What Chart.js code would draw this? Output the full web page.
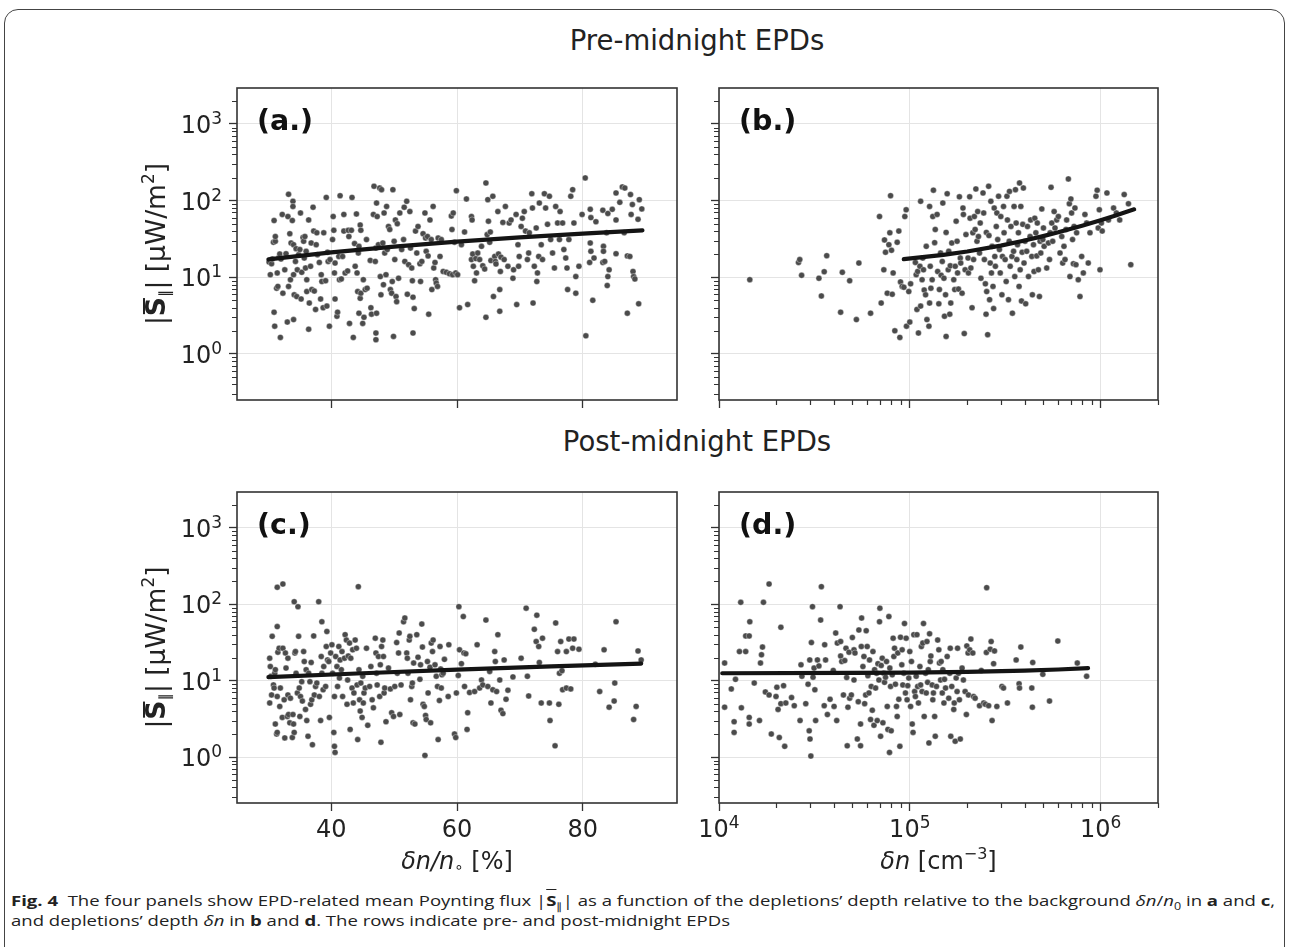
<!DOCTYPE html>
<html lang="en">
<head>
<meta charset="UTF-8">
<title>EPD Poynting flux vs depletion depth</title>
<script src="https://cdn.jsdelivr.net/npm/chart.js"></script>
<style>
  body { margin: 0; background: #fff; width: 1290px; height: 947px; overflow: hidden; position: relative; font-family: 'DejaVu Sans', sans-serif; }
  .frame { position: absolute; left: 4px; top: 9px; width: 1279px; height: 960px; border: 1.5px solid #444; border-radius: 14px; }
  .row-title { position: absolute; left: 0; width: 1394px; text-align: center; font-size: 27.5px; line-height: 32px; color: #222; }
  .panel { position: absolute; }
  .caption { position: absolute; left: 11px; top: 890px; font-family: 'Open Sans', sans-serif; font-size: 14.8px; line-height: 20px; color: #222; white-space: nowrap; }
  .caption div { transform-origin: 0 0; width: max-content; }
  .caption sub { font-size: 10px; line-height: 0; }
</style>
</head>
<body>
<div class="frame"></div>
<div class="row-title" style="top:24px">Pre-midnight EPDs</div>
<div class="row-title" style="top:425px">Post-midnight EPDs</div>

<div class="panel" id="wa"><canvas id="pa"></canvas></div>
<div class="panel" id="wb"><canvas id="pb"></canvas></div>
<div class="panel" id="wc"><canvas id="pc"></canvas></div>
<div class="panel" id="wd"><canvas id="pd"></canvas></div>

<div class="caption">
  <div id="cap1"><b>Fig. 4</b>&nbsp; The four panels show EPD-related mean Poynting flux |<b style="text-decoration:overline">S</b><sub>∥</sub>| as a function of the depletions’ depth relative to the background <i>δn</i>/<i>n</i><sub>0</sub> in <b>a</b> and <b>c</b>,</div>
  <div id="cap2">and depletions’ depth <i>δn</i> in <b>b</b> and <b>d</b>. The rows indicate pre- and post-midnight EPDs</div>
</div>

<script>
// ---- data: [x, |S|| in uW/m^2] ----
// (a) pre-midnight, relative depth dn/n0 [%]
const preRelPts = [[30.1,15.8],[30.3,10.8],[30.5,15.0],[30.6,17.3],[30.8,28.6],[30.9,55],[30.9,3.5],[31.0,2.3],[31.1,29.5],[31.1,34],[31.3,7.2],[31.4,11.4],[31.5,7.6],[31.7,18.3],[31.8,20.1],[31.9,1.64],[32.0,17.3],[32.2,66],[32.3,6.2],[32.6,12.5],[32.8,20.3],[33.0,2.6],[33.1,62],[33.2,121],[33.2,7.6],[33.4,37],[33.5,9.3],[33.6,28],[33.8,55],[33.9,98],[33.9,84],[34.0,26.6],[34.0,2.8],[34.0,10.8],[34.1,5.9],[34.3,16.1],[34.4,23.6],[34.5,5.6],[34.6,12.5],[34.8,19.7],[35.0,23],[35.1,69],[35.2,5.2],[35.3,11.6],[35.5,33],[35.6,29.5],[35.7,17.8],[35.8,34],[35.9,13.2],[36.0,21.8],[36.1,6.5],[36.1,9.3],[36.4,2.1],[36.4,56],[36.5,4.6],[36.7,13.9],[36.8,28],[36.9,6.9],[37.1,82],[37.2,40],[37.3,6.6],[37.5,3.8],[37.6,26.6],[37.7,38],[37.8,19.7],[38.1,15.6],[38.3,5.2],[38.4,10.8],[38.5,8.8],[38.7,4.0],[38.8,38],[39.1,9.0],[39.2,110],[39.3,4.2],[39.4,21.2],[39.5,16.1],[39.7,2.3],[39.8,17],[40.2,31],[40.3,62],[40.4,41],[40.5,11.4],[40.6,15.3],[40.6,5.2],[40.9,3.1],[41.0,3.5],[41.2,18.7],[41.3,9.3],[41.4,116],[41.6,9.5],[41.8,18.7],[42.0,66],[42.0,40],[42.2,11.4],[42.6,12.1],[42.7,41],[42.8,34],[42.9,2.5],[43.2,41],[43.3,110],[43.5,1.64],[43.7,27.5],[43.8,13.9],[44.0,67],[44.1,11.4],[44.2,6.5],[44.3,20.7],[44.4,3.4],[44.4,25.3],[44.6,5.3],[44.6,48],[44.7,6.2],[44.7,41],[45.0,2.5],[45.1,9.3],[45.2,3.0],[45.4,6.9],[45.6,31],[45.7,7.2],[46.2,16.6],[46.3,4.0],[46.4,3.3],[46.7,66],[46.8,154],[47.0,16.1],[47.1,24],[47.1,1.87],[47.1,1.53],[47.2,3.4],[47.2,93],[47.3,62],[47.5,26.6],[47.7,146],[47.8,10.2],[47.9,5.9],[48.0,139],[48.2,28],[48.3,8.0],[48.4,69],[48.5,20.7],[48.7,10.8],[48.8,84],[48.9,23],[49.1,46],[49.3,42],[49.4,6.9],[49.6,6.2],[49.7,8.8],[49.8,139],[49.9,1.69],[50.0,29.5],[50.1,17],[50.2,56],[50.3,5.6],[50.4,4.8],[50.5,50],[50.7,9.7],[50.9,69],[51.2,23],[51.5,31],[51.6,82],[51.7,16.1],[52.0,98],[52.1,6.0],[52.3,14.6],[52.5,72],[52.6,24],[52.8,13.2],[52.9,9.0],[53.0,1.87],[53.0,5.5],[53.2,3.9],[53.4,40],[53.6,20.7],[53.8,46],[54.1,15],[54.2,8.8],[54.4,16.1],[54.6,37],[54.9,69],[55.0,32.5],[55.1,21.8],[55.3,34],[55.4,19],[55.5,3.3],[55.7,56],[55.9,31],[56.0,6.9],[56.2,84],[56.3,13.2],[56.5,15.6],[56.6,9.3],[56.7,8.4],[56.9,7.6],[57.0,32.5],[57.3,18.7],[57.5,31],[57.8,11.9],[58.3,11.6],[58.8,11.1],[59.1,63],[59.2,42],[59.3,10.8],[59.4,69],[60.4,4.0],[59.6,28.6],[59.8,11.4],[59.9,135],[60.1,10.8],[60.7,26.6],[61.2,39],[61.5,105],[61.7,4.4],[62.3,62],[62.3,17],[62.4,56],[62.5,20.1],[62.6,13.9],[62.8,9.0],[63.0,17.5],[63.1,11.4],[63.3,20.7],[63.6,17],[63.9,25.3],[64.1,14.1],[64.4,12.8],[64.6,170],[64.6,3.0],[64.8,36],[64.9,103],[65.0,54],[65.2,28.6],[65.3,39],[65.4,16.5],[65.7,114],[65.8,5.6],[66.0,18.7],[66.1,16.1],[66.2,14.9],[66.5,72],[66.6,20.1],[66.8,3.6],[66.8,6.9],[66.9,11.9],[67.0,18.3],[67.3,52],[67.5,17],[67.7,84],[68.1,13.9],[68.3,51],[68.6,56],[68.9,9.7],[69.0,12.5],[69.4,66],[69.5,4.4],[69.7,26.6],[69.8,13.9],[69.9,18.7],[70.2,46],[70.4,59],[70.7,72],[70.9,40],[71.2,17],[71.4,20.7],[71.5,38],[71.9,123],[72.0,80],[72.1,4.6],[72.3,13.9],[72.6,44],[72.7,8.8],[72.8,11.4],[73.0,18.7],[73.1,93],[73.4,26.6],[73.6,17],[73.9,123],[74.1,80],[74.4,49],[74.7,114],[74.9,31],[75.2,20.7],[75.5,13.2],[75.7,84],[76.0,51],[76.3,31],[76.4,72],[76.8,51],[77.0,23],[77.3,17.8],[77.5,13.2],[77.6,6.9],[77.8,31],[78.1,114],[78.4,139],[78.6,51],[78.9,10.2],[78.9,6.2],[79.4,13.9],[79.9,66],[80.4,198],[80.5,1.72],[81.2,77],[81.3,60],[81.6,5.0],[81.2,28],[81.3,21.8],[81.1,15.6],[81.8,17.8],[82.1,53],[83.2,75],[83.3,25.3],[83.3,21.8],[83.2,15.6],[83.5,16.1],[83.8,38],[84.0,68],[84.2,12.5],[84.0,10.2],[83.9,7.8],[84.7,77],[85.3,126],[85.3,56],[85.3,20.3],[85.9,95],[86.3,151],[86.7,146],[86.6,38],[87.1,19],[87.5,18.7],[87.1,3.4],[87.6,120],[87.9,89],[87.7,66],[88.0,11.9],[88.1,10.2],[88.3,9.5],[88.8,57],[89.0,103],[89.4,78],[88.9,4.5]];
const preRelFit = [[30,17.1],[40,21.1],[50,25.1],[60,29.1],[70,33.1],[80,37.1],[89.5,41]];

// (b) pre-midnight, absolute depth dn [cm^-3]
const preAbsPts = [[1.45e4,9.3],[2.61e4,15.6],[2.65e4,17],[2.71e4,10.6],[3.34e4,9.7],[3.44e4,5.7],[3.56e4,11.8],[3.67e4,19.1],[4.34e4,3.5],[4.43e4,11.6],[4.84e4,9.0],[5.25e4,2.8],[5.41e4,15.3],[6.23e4,3.4],[6.94e4,62],[7.08e4,4.6],[7.31e4,12.5],[7.37e4,30.7],[7.46e4,21.2],[7.62e4,6.2],[7.77e4,26.6],[7.86e4,38],[7.93e4,116],[8.02e4,22.5],[8.09e4,6.0],[8.18e4,11.4],[8.35e4,2.0],[8.59e4,28.6],[8.76e4,40],[8.87e4,1.64],[8.94e4,8.7],[9.12e4,7.6],[9.31e4,7.4],[9.42e4,62],[9.57e4,76],[9.61e4,2.3],[9.88e4,6.5],[1.0e5,2.6],[1.01e5,8.2],[1.07e5,15.6],[1.08e5,10.8],[1.09e5,3.8],[1.10e5,11.9],[1.11e5,1.87],[1.13e5,13.9],[1.14e5,98],[1.14e5,4.2],[1.16e5,9.3],[1.17e5,17.8],[1.18e5,12.5],[1.19e5,6.8],[1.21e5,5.9],[1.22e5,25.3],[1.23e5,2.8],[1.26e5,2.3],[1.27e5,4.6],[1.27e5,84],[1.28e5,13.9],[1.29e5,7.2],[1.31e5,9.3],[1.32e5,62],[1.33e5,137],[1.35e5,28.3],[1.36e5,42],[1.39e5,66],[1.40e5,11.9],[1.42e5,4.5],[1.43e5,6.9],[1.45e5,20.7],[1.46e5,10.6],[1.48e5,16.1],[1.49e5,93],[1.51e5,9.7],[1.52e5,3.1],[1.54e5,5.9],[1.55e5,38.5],[1.55e5,1.69],[1.57e5,123],[1.59e5,12.5],[1.60e5,21.8],[1.62e5,3.3],[1.63e5,14.1],[1.64e5,4.6],[1.66e5,28],[1.70e5,9.3],[1.72e5,6.9],[1.73e5,13.9],[1.75e5,54],[1.77e5,29.5],[1.78e5,11.4],[1.80e5,7.0],[1.82e5,112],[1.84e5,17.8],[1.85e5,15.3],[1.88e5,6.2],[1.90e5,80],[1.91e5,66],[1.93e5,1.84],[1.95e5,12.5],[1.97e5,36],[2.02e5,17.8],[2.03e5,11.4],[2.06e5,112],[2.07e5,59],[2.09e5,13.2],[2.12e5,4.0],[2.14e5,38],[2.16e5,17],[2.18e5,62],[2.20e5,42],[2.22e5,142],[2.25e5,29.5],[2.27e5,72],[2.29e5,34],[2.32e5,20.7],[2.34e5,51],[2.36e5,9.7],[2.42e5,126],[2.44e5,69],[2.46e5,17],[2.49e5,8.2],[2.51e5,3.3],[2.52e5,38.5],[2.53e5,6.5],[2.56e5,1.78],[2.59e5,154],[2.60e5,35],[2.62e5,5.1],[2.64e5,15.3],[2.66e5,98],[2.68e5,11.4],[2.70e5,25.3],[2.73e5,7.6],[2.75e5,3.9],[2.77e5,80],[2.79e5,18.7],[2.81e5,13.9],[2.84e5,46],[2.86e5,69],[2.89e5,31],[2.92e5,114],[2.95e5,23],[2.98e5,11.4],[3.0e5,62],[3.04e5,5.9],[3.06e5,18.7],[3.10e5,84],[3.12e5,38],[3.16e5,17],[3.20e5,8.8],[3.23e5,114],[3.25e5,56],[3.29e5,5.1],[3.32e5,29.5],[3.33e5,132],[3.36e5,13.9],[3.39e5,46],[3.43e5,18.7],[3.45e5,3.4],[3.50e5,21.8],[3.52e5,84],[3.55e5,10.2],[3.58e5,139],[3.61e5,51],[3.64e5,17],[3.67e5,26.6],[3.71e5,38],[3.74e5,7.6],[3.76e5,170],[3.79e5,12.5],[3.82e5,84],[3.85e5,4.9],[3.88e5,21.2],[3.91e5,49],[3.94e5,146],[3.97e5,15.3],[4.02e5,29.5],[4.05e5,4.5],[4.10e5,21.8],[4.14e5,46],[4.19e5,10.2],[4.27e5,34],[4.30e5,56],[4.36e5,18.7],[4.39e5,5.9],[4.45e5,26.6],[4.48e5,11.9],[4.52e5,59],[4.58e5,38],[4.63e5,19],[4.66e5,51],[4.72e5,12.5],[4.78e5,5.6],[4.82e5,29.5],[4.86e5,20.7],[4.92e5,78],[4.98e5,31],[5.02e5,44],[5.06e5,25.3],[5.22e5,13.2],[5.33e5,28],[5.40e5,17],[5.44e5,38],[5.50e5,149],[5.55e5,51],[5.61e5,29.5],[5.71e5,72],[5.77e5,44],[5.89e5,56],[6.01e5,62],[6.13e5,20.7],[6.26e5,34],[6.33e5,15.3],[6.43e5,25.3],[6.51e5,17],[6.59e5,42],[6.64e5,56],[6.78e5,192],[6.86e5,91],[6.91e5,10.2],[6.99e5,105],[7.05e5,69],[7.13e5,31],[7.20e5,15],[7.26e5,46],[7.34e5,80],[7.43e5,14.6],[7.49e5,38],[7.64e5,9.3],[7.80e5,5.6],[7.96e5,18.7],[8.12e5,11.4],[8.28e5,66],[8.45e5,51],[8.62e5,15.3],[8.80e5,38],[9.46e5,114],[9.60e5,137],[9.72e5,44],[9.85e5,76],[9.93e5,12.5],[1.01e6,51],[1.02e6,40],[1.08e6,126],[1.10e6,56],[1.17e6,80],[1.21e6,69],[1.26e6,56],[1.33e6,120],[1.40e6,91],[1.44e6,14.6]];
const preAbsFit = [[9.3e4,17.2],[1.5e5,19.6],[2e5,21.7],[3e5,25.9],[4e5,30.2],[5e5,34.4],[6e5,38.6],[8e5,47.1],[1e6,55.6],[1.2e6,64.1],[1.5e6,76.9]];

// (c) post-midnight, relative depth dn/n0 [%]
const postRelPts = [[30.2,19.7],[30.3,15.3],[30.4,11.4],[30.5,6.5],[30.2,5.1],[30.6,38],[30.8,8.8],[30.9,8.0],[31.0,12.5],[31.1,13.9],[31.1,2.7],[31.3,2.0],[31.4,2.1],[31.4,167],[31.4,51],[31.4,6.2],[31.5,23.6],[31.7,26.6],[31.8,4.6],[31.9,8.0],[32.2,3.3],[32.3,184],[32.3,26.6],[32.5,5.6],[32.6,1.78],[32.7,23],[32.8,14.6],[33.0,3.4],[33.1,6.5],[33.1,19.7],[33.2,3.6],[33.4,2.8],[33.5,5.9],[33.8,1.8],[33.9,3.6],[34.0,2.7],[34.1,108],[34.1,2.1],[34.2,23],[34.3,24],[34.4,12.5],[34.6,6.9],[34.7,93],[34.8,38],[34.9,8.0],[35.0,3.4],[35.1,6.2],[35.3,9.7],[35.4,5.4],[35.6,24],[35.7,17.8],[35.9,4.2],[36.0,13.9],[36.1,3.0],[36.3,1.87],[36.4,12.5],[36.6,9.7],[36.7,4.9],[36.8,17.3],[36.9,5.6],[37.0,1.45],[37.2,38.5],[37.3,6.5],[37.5,8.4],[37.7,9.3],[38.0,108],[38.1,6.2],[38.3,3.0],[38.4,20.7],[38.5,59],[38.5,12.5],[38.7,7.6],[38.8,15.3],[39.1,8.4],[39.2,28],[39.3,44],[39.4,18.7],[39.6,17.8],[39.7,3.3],[39.9,23],[40.1,29.5],[40.2,12.5],[40.4,2.1],[40.5,6.2],[40.5,1.38],[40.6,1.15],[40.7,20.7],[40.9,15.3],[41.0,8.4],[41.2,28],[41.3,10.8],[41.4,18.7],[41.6,13.9],[41.7,24],[41.8,6.2],[42.1,19.7],[42.2,40],[42.4,34],[42.5,4.9],[42.6,10.2],[42.7,21],[42.9,31],[43.0,2.3],[43.1,19.7],[43.3,8.0],[43.4,25.3],[43.5,5.1],[43.6,6.9],[43.8,34],[44.0,26.6],[44.1,8.8],[44.2,1.69],[44.3,170],[44.4,13.9],[44.5,5.6],[44.6,4.0],[44.7,9.3],[44.9,3.3],[45.0,11.4],[45.1,5.1],[45.2,6.9],[45.4,8.0],[45.6,26.6],[45.8,2.6],[46.1,8.4],[46.3,15.3],[46.5,5.6],[46.7,4.4],[47.0,36],[47.1,23],[47.2,12.5],[47.3,8.8],[47.5,20.7],[47.7,6.2],[47.8,16.1],[47.9,1.56],[48.0,28],[48.2,34],[48.3,20.7],[48.4,6.9],[48.5,8.0],[48.7,2.9],[49.1,14.6],[49.4,7.8],[49.6,3.8],[49.9,3.4],[50.1,8.4],[50.4,31.5],[50.5,12.5],[50.7,23],[50.8,42],[50.9,3.6],[51.1,8.8],[51.5,59],[51.7,66],[52.0,23],[52.1,19.7],[52.2,12.5],[52.4,34],[52.5,38],[52.6,5.6],[52.8,8.4],[52.9,9.3],[53.0,2.8],[53.1,17],[53.3,2.7],[53.6,40],[53.8,20.3],[54.1,10.4],[54.2,16.1],[54.4,55],[54.5,27.5],[54.6,4.9],[54.8,4.6],[54.9,1.05],[55.0,3.5],[55.1,3.1],[55.3,17.8],[55.4,6.9],[55.7,15],[55.8,2.8],[55.9,31],[56.1,24],[56.2,34],[56.5,16.1],[56.7,11.4],[56.9,8.4],[57.0,1.69],[57.2,5.5],[57.3,28],[57.4,14.2],[57.5,8.0],[57.6,11.9],[57.8,12.5],[58.0,19],[58.6,6.2],[58.7,29.5],[59.6,2.0],[59.8,1.8],[59.9,6.9],[60.2,11.7],[60.3,93],[60.4,25.3],[60.7,16.7],[61.0,69],[61.1,23],[61.2,8.4],[61.4,22.5],[61.6,2.3],[61.7,3.8],[62.0,7.0],[62.8,7.2],[63.2,29.5],[63.6,8.0],[63.9,10.2],[64.1,8.8],[64.6,62],[64.9,8.4],[65.2,13.2],[65.4,5.1],[65.7,7.6],[66.0,24],[66.1,17.8],[66.3,7.2],[66.5,40],[66.8,10.2],[67.0,4.1],[67.3,3.7],[67.5,18.7],[67.8,5.7],[68.1,7.5],[68.9,11.2],[70.2,19.7],[71.0,89],[71.2,11.4],[71.4,6.3],[72.3,47],[72.6,32.5],[72.7,72],[73.0,28],[73.1,17.3],[73.4,5.1],[73.6,36],[74.7,5.1],[74.8,3.0],[75.6,1.4],[75.7,57],[76.0,24],[76.2,4.9],[76.3,12.5],[76.5,32.5],[76.7,13.5],[76.8,7.6],[77.4,24],[77.4,8.0],[77.8,35],[78.1,7.8],[78.4,26.6],[78.6,35],[79.4,25.8],[82.0,16.4],[82.7,7.2],[83.4,25.3],[84.2,4.5],[85.0,5.4],[85.1,9.3],[85.3,59],[88.1,3.1],[88.5,4.6],[88.8,24.5],[89.3,18.7]];
const postRelFit = [[30,11.1],[45,12.5],[60,13.9],[75,15.4],[89.3,16.7]];

// (d) post-midnight, absolute depth dn [cm^-3]
const postAbsPts = [[1.07e4,17],[1.07e4,4.5],[1.16e4,7.8],[1.20e4,2.9],[1.20e4,2.1],[1.22e4,10.4],[1.28e4,24],[1.30e4,106],[1.31e4,4.4],[1.38e4,38.5],[1.38e4,24],[1.44e4,38.5],[1.44e4,3.3],[1.45e4,59],[1.44e4,2.7],[1.53e4,9.3],[1.63e4,3.0],[1.65e4,17],[1.67e4,21.8],[1.69e4,27.5],[1.71e4,106],[1.75e4,7.1],[1.83e4,6.5],[1.83e4,184],[1.88e4,2.0],[1.99e4,6.2],[2.01e4,8.2],[2.04e4,4.2],[2.07e4,1.8],[2.11e4,50],[2.11e4,5.0],[2.18e4,8.6],[2.21e4,1.38],[2.24e4,5.1],[2.40e4,6.0],[2.48e4,4.7],[2.66e4,3.0],[2.69e4,16.1],[2.72e4,11.4],[2.85e4,5.0],[2.93e4,9.0],[2.97e4,2.2],[2.99e4,18.7],[3.0e4,1.72],[3.03e4,1.03],[3.05e4,31.5],[3.09e4,93],[3.11e4,11.1],[3.15e4,14.6],[3.18e4,7.6],[3.21e4,3.0],[3.28e4,18.7],[3.34e4,15.6],[3.41e4,62],[3.44e4,170],[3.56e4,4.7],[3.58e4,29.5],[3.62e4,18.7],[3.70e4,3.6],[3.82e4,5.7],[3.97e4,13.6],[4.01e4,4.6],[4.09e4,42],[4.14e4,3.0],[4.17e4,31],[4.31e4,93],[4.34e4,32.5],[4.34e4,21],[4.40e4,17.8],[4.49e4,6.5],[4.56e4,18.3],[4.63e4,26.6],[4.67e4,11],[4.70e4,1.4],[4.74e4,4.5],[4.80e4,23.6],[4.84e4,5.9],[4.94e4,6.5],[5.0e4,36.7],[5.10e4,25.3],[5.10e4,10.2],[5.16e4,23],[5.31e4,1.72],[5.37e4,5.3],[5.41e4,46],[5.52e4,2.7],[5.52e4,1.4],[5.57e4,28],[5.59e4,66],[5.68e4,15.3],[5.75e4,20.7],[5.80e4,5.0],[5.87e4,6.5],[5.91e4,45],[5.98e4,28],[6.03e4,11.6],[6.11e4,6.9],[6.15e4,18.7],[6.23e4,3.1],[6.28e4,8.4],[6.36e4,4.1],[6.41e4,24],[6.49e4,2.6],[6.54e4,13.9],[6.62e4,8.0],[6.70e4,12.5],[6.75e4,3.0],[6.81e4,16.7],[6.89e4,10.2],[6.94e4,59],[6.97e4,89],[7.03e4,1.87],[7.08e4,15.8],[7.17e4,19.7],[7.23e4,2.8],[7.31e4,12.5],[7.37e4,9.5],[7.46e4,11.1],[7.55e4,17.8],[7.62e4,4.6],[7.68e4,2.3],[7.77e4,69],[7.83e4,1.15],[7.86e4,14.6],[7.93e4,8.4],[7.99e4,2.2],[8.09e4,11.9],[8.18e4,36],[8.25e4,20.7],[8.32e4,26.6],[8.41e4,9.0],[8.52e4,4.6],[8.59e4,3.4],[8.65e4,23],[8.76e4,5.7],[8.87e4,1.38],[8.94e4,37],[9.08e4,16.1],[9.12e4,25.3],[9.19e4,8.8],[9.31e4,12.5],[9.38e4,56],[9.49e4,6.9],[9.57e4,36],[9.68e4,5.6],[9.76e4,8.6],[9.88e4,10.8],[1.0e5,24],[1.01e5,4.6],[1.02e5,17.8],[1.03e5,2.7],[1.04e5,2.1],[1.05e5,40],[1.06e5,7.2],[1.07e5,6.2],[1.08e5,11.4],[1.09e5,40],[1.10e5,8.4],[1.11e5,5.1],[1.13e5,15.3],[1.14e5,8.8],[1.15e5,28],[1.16e5,7.2],[1.17e5,31],[1.18e5,56],[1.19e5,3.4],[1.21e5,12.5],[1.22e5,6.9],[1.23e5,32.5],[1.24e5,9.5],[1.25e5,13.9],[1.26e5,1.53],[1.27e5,41],[1.28e5,17.8],[1.29e5,21],[1.31e5,8.8],[1.32e5,5.6],[1.33e5,6.9],[1.35e5,3.4],[1.36e5,1.87],[1.38e5,8.4],[1.40e5,34],[1.42e5,25.3],[1.43e5,17],[1.45e5,10.2],[1.46e5,17.8],[1.48e5,6.9],[1.49e5,13.9],[1.51e5,5.1],[1.52e5,10.4],[1.54e5,8.0],[1.57e5,20.7],[1.60e5,5.9],[1.62e5,12.5],[1.63e5,26.6],[1.64e5,1.87],[1.66e5,8.4],[1.70e5,4.2],[1.71e5,5.1],[1.73e5,1.61],[1.75e5,10.8],[1.77e5,7.2],[1.78e5,26.6],[1.80e5,12.5],[1.82e5,5.6],[1.84e5,1.72],[1.88e5,14.6],[1.91e5,10.2],[1.95e5,7.2],[1.98e5,3.6],[1.99e5,28.5],[2.02e5,23],[2.03e5,6.5],[2.06e5,25.3],[2.09e5,35],[2.14e5,23],[2.16e5,6.2],[2.20e5,5.9],[2.32e5,4.7],[2.37e5,13.6],[2.44e5,5.1],[2.49e5,4.9],[2.52e5,23.4],[2.53e5,165],[2.59e5,4.7],[2.64e5,25.8],[2.67e5,32.5],[2.70e5,3.0],[2.75e5,16.7],[2.78e5,24.5],[2.86e5,4.6],[3.04e5,8.4],[3.10e5,8.0],[3.25e5,5.1],[3.61e5,18.7],[3.74e5,9.1],[3.76e5,8.0],[3.82e5,27.5],[4.36e5,8.0],[4.39e5,4.5],[4.41e5,17.3],[4.98e5,12.1],[5.40e5,5.4],[5.97e5,33],[7.55e5,17],[8.45e5,11.4]];
const postAbsFit = [[1.04e4,12.5],[5e4,12.6],[1e5,12.7],[2e5,13.0],[4e5,13.5],[6e5,14.0],[8.6e5,14.6]];

// axis ranges and tick positions
const fluxRange = [0.25, 2950];
const fluxTicks = [1, 10, 100, 1000];
const relRange = [25, 95];
const relTicks = [40, 60, 80];
const absRange = [1e4, 2e6];
const absTicks = [1e4, 1e5, 1e6];

Chart.defaults.font.family = "'DejaVu Sans'";
Chart.defaults.color = '#222';

const F = "'DejaVu Sans'";
const yTitleParts = [
  { t: '|', font: '26.5px ' + F },
  { t: 'S', font: 'bold 26.5px ' + F, bar: -22 },
  { t: '∥', font: '15px ' + F, dy: 5 },
  { t: '| [μW/m', font: '26.5px ' + F },
  { t: '2', font: '17px ' + F, dy: -11 },
  { t: ']', font: '26.5px ' + F }
];
const relTitleParts = [
  { t: 'δn/n', font: 'italic 24px ' + F },
  { t: '∘', font: '15px ' + F, dy: 3 },
  { t: ' [%]', font: '24px ' + F }
];
const absTitleParts = [
  { t: 'δn', font: 'italic 24px ' + F },
  { t: ' [cm', font: '24px ' + F },
  { t: '−3', font: '16px ' + F, dy: -10 },
  { t: ']', font: '24px ' + F }
];
// "10" with a raised exponent, like matplotlib mathtext
const powParts = v => [
  { t: '10', font: '24px ' + F },
  { t: String(Math.round(Math.log10(v))), font: '17px ' + F, dy: -9 }
];

function measureParts(ctx, parts) {
  let total = 0;
  parts.forEach(p => { ctx.font = p.font; p.w = ctx.measureText(p.t).width; total += p.w; });
  return total;
}

function drawParts(ctx, parts, x0, baseY) {
  let x = x0;
  ctx.textBaseline = 'alphabetic';
  ctx.textAlign = 'left';
  parts.forEach(p => {
    ctx.font = p.font;
    ctx.fillText(p.t, x, baseY + (p.dy || 0));
    if (p.bar) ctx.fillRect(x + 2, baseY + p.bar, p.w - 3, 2);
    x += p.w;
  });
}

function drawCentered(ctx, parts, cx, baseY) {
  const w = measureParts(ctx, parts);
  drawParts(ctx, parts, cx - w / 2, baseY);
}

// minor ticks, frame, tick labels, panel tags, axis titles
const decor = {
  id: 'decor',
  afterDraw(chart, args, o) {
    const { ctx, chartArea: a } = chart;
    const x = chart.scales.x, y = chart.scales.y;
    ctx.save();
    ctx.strokeStyle = '#333';
    ctx.lineWidth = 1.2;
    ctx.beginPath();
    for (let e = -1; e <= 3; e++) {
      for (let m = 2; m <= 9; m++) {
        const v = m * Math.pow(10, e);
        if (v <= y.min || v >= y.max) continue;
        const py = Math.round(y.getPixelForValue(v)) + 0.5;
        ctx.moveTo(a.left - 5, py);
        ctx.lineTo(a.left, py);
      }
    }
    if (o.logX) {
      for (let e = 4; e <= 6; e++) {
        for (let m = 2; m <= 9; m++) {
          const v = m * Math.pow(10, e);
          if (v > x.max * 1.0001) continue;
          const px = Math.round(x.getPixelForValue(v)) + 0.5;
          ctx.moveTo(px, a.bottom);
          ctx.lineTo(px, a.bottom + 5);
        }
      }
    }
    ctx.stroke();

    ctx.lineWidth = 1.6;
    ctx.strokeRect(a.left, a.top, a.right - a.left, a.bottom - a.top);

    ctx.fillStyle = '#222';
    if (o.yLabels) {
      fluxTicks.forEach(v => {
        const parts = powParts(v);
        const w = measureParts(ctx, parts);
        drawParts(ctx, parts, a.left - 15 - w, y.getPixelForValue(v) + 9);
      });
    }
    if (o.xLabels) {
      const xt = o.logX ? absTicks : relTicks;
      xt.forEach(v => {
        const parts = o.logX ? powParts(v) : [{ t: String(v), font: '24px ' + F }];
        drawCentered(ctx, parts, x.getPixelForValue(v), a.bottom + 34);
      });
    }

    ctx.fillStyle = '#111';
    ctx.font = 'bold 28.5px ' + F;
    ctx.textBaseline = 'middle';
    ctx.textAlign = 'left';
    ctx.fillText(o.tag, a.left + 20, a.top + 35);

    ctx.fillStyle = '#222';
    if (o.yTitle) {
      ctx.save();
      ctx.translate(a.left - 81, (a.top + a.bottom) / 2);
      ctx.rotate(-Math.PI / 2);
      drawCentered(ctx, yTitleParts, 0, 9);
      ctx.restore();
    }
    if (o.xTitle) drawCentered(ctx, o.xTitle, (a.left + a.right) / 2, a.bottom + 66);
    ctx.restore();
  }
};

function makePanel(id, box, pts, fit, opt) {
  const wrap = document.getElementById('w' + id.slice(1));
  const cw = box.w + 140, chh = box.h + 100;
  wrap.style.left = (box.l - 110) + 'px';
  wrap.style.top = (box.t - 20) + 'px';
  const cv = document.getElementById(id);
  cv.width = cw; cv.height = chh;
  cv.style.width = cw + 'px'; cv.style.height = chh + 'px';

  const xr = opt.logX ? absRange : relRange;
  const xt = opt.logX ? absTicks : relTicks;

  new Chart(cv, {
    type: 'scatter',
    data: {
      datasets: [
        {
          data: fit.map(([x, y]) => ({ x, y })),
          showLine: true, borderColor: '#141414', borderWidth: 4.2,
          pointRadius: 0, borderCapStyle: 'round', tension: 0
        },
        {
          data: pts.map(([x, y]) => ({ x, y })),
          pointRadius: 3, pointBackgroundColor: '#4b4b4b',
          pointBorderColor: 'rgba(255,255,255,0.7)', pointBorderWidth: 0.5
        }
      ]
    },
    options: {
      responsive: false,
      animation: false,
      devicePixelRatio: 1,
      layout: { padding: { left: 0, top: 20, right: 30, bottom: 0 } },
      plugins: { legend: { display: false }, tooltip: { enabled: false }, decor: opt },
      scales: {
        x: {
          type: opt.logX ? 'logarithmic' : 'linear',
          min: xr[0], max: xr[1], bounds: 'data',
          afterBuildTicks: s => { s.ticks = xt.map(v => ({ value: v })); },
          afterFit: s => { s.height = 80; },
          border: { display: false },
          grid: { color: '#e4e4e4', lineWidth: 1, drawTicks: true, tickLength: 8, tickColor: '#333', tickWidth: 1.3 },
          ticks: { display: false }
        },
        y: {
          type: 'logarithmic',
          min: fluxRange[0], max: fluxRange[1], bounds: 'data',
          afterBuildTicks: s => { s.ticks = fluxTicks.map(v => ({ value: v })); },
          afterFit: s => { s.width = 110; },
          border: { display: false },
          grid: { color: '#e4e4e4', lineWidth: 1, drawTicks: true, tickLength: 8, tickColor: '#333', tickWidth: 1.3 },
          ticks: { display: false }
        }
      }
    },
    plugins: [decor]
  });
}

makePanel('pa', { l: 237, t: 88, w: 440, h: 312 }, preRelPts, preRelFit,
  { tag: '(a.)', logX: false, xLabels: false, yLabels: true, yTitle: true, xTitle: null });
makePanel('pb', { l: 719, t: 88, w: 439, h: 312 }, preAbsPts, preAbsFit,
  { tag: '(b.)', logX: true, xLabels: false, yLabels: false, yTitle: false, xTitle: null });
makePanel('pc', { l: 237, t: 492, w: 440, h: 311 }, postRelPts, postRelFit,
  { tag: '(c.)', logX: false, xLabels: true, yLabels: true, yTitle: true, xTitle: relTitleParts });
makePanel('pd', { l: 719, t: 492, w: 439, h: 311 }, postAbsPts, postAbsFit,
  { tag: '(d.)', logX: true, xLabels: true, yLabels: false, yTitle: false, xTitle: absTitleParts });

// fit the first caption line to the frame width; the second line gets the same squeeze
const cap1 = document.getElementById('cap1');
const cap2 = document.getElementById('cap2');
const k = 1264 / cap1.getBoundingClientRect().width;
cap1.style.transform = 'scaleX(' + k + ')';
cap2.style.transform = 'scaleX(' + k + ')';
</script>
</body>
</html>
